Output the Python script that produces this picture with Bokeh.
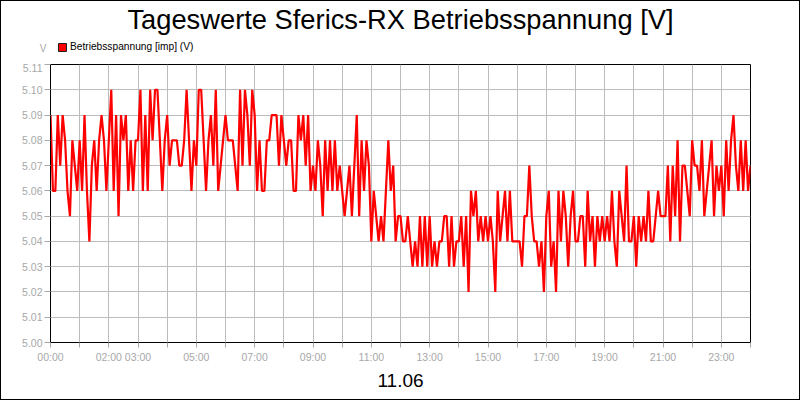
from bokeh.plotting import figure
from bokeh.layouts import column
from bokeh.models import FixedTicker, Label, Legend, LegendItem, Range1d
from bokeh.embed import file_html
from bokeh.resources import INLINE

title_text = "Tageswerte Sferics-RX Betriebsspannung [V]"
date_label = "11.06"
unit_label = "V"
series_name = "Betriebsspannung [imp] (V)"

# 5-minute readings in volts
volts_00_06 = [
    5.09, 5.06, 5.06, 5.09, 5.07, 5.09, 5.08, 5.06, 5.05, 5.08, 5.07, 5.06,
    5.08, 5.06, 5.09, 5.06, 5.04, 5.07, 5.08, 5.06, 5.08, 5.09, 5.08, 5.06,
    5.08, 5.10, 5.06, 5.09, 5.05, 5.09, 5.08, 5.09, 5.06, 5.08, 5.06, 5.08,
    5.08, 5.10, 5.06, 5.09, 5.06, 5.10, 5.08, 5.10, 5.10, 5.08, 5.06, 5.08,
    5.09, 5.07, 5.08, 5.08, 5.08, 5.07, 5.07, 5.08, 5.10, 5.08, 5.06, 5.08,
    5.07, 5.10, 5.10, 5.08, 5.06, 5.08, 5.09, 5.07, 5.10, 5.06, 5.07, 5.08,
]
volts_06_12 = [
    5.09, 5.08, 5.08, 5.08, 5.07, 5.06, 5.10, 5.07, 5.10, 5.09, 5.07, 5.10,
    5.09, 5.06, 5.08, 5.06, 5.06, 5.08, 5.08, 5.09, 5.09, 5.09, 5.07, 5.09,
    5.08, 5.07, 5.08, 5.08, 5.06, 5.06, 5.09, 5.08, 5.09, 5.07, 5.09, 5.06,
    5.07, 5.06, 5.08, 5.07, 5.05, 5.08, 5.06, 5.08, 5.06, 5.08, 5.06, 5.07,
    5.06, 5.05, 5.06, 5.07, 5.05, 5.07, 5.09, 5.05, 5.08, 5.06, 5.08, 5.07,
    5.04, 5.06, 5.05, 5.04, 5.05, 5.04, 5.06, 5.08, 5.06, 5.07, 5.04, 5.05,
]
volts_12_18 = [
    5.05, 5.04, 5.04, 5.05, 5.04, 5.03, 5.04, 5.03, 5.05, 5.03, 5.05, 5.03,
    5.05, 5.03, 5.04, 5.03, 5.04, 5.04, 5.05, 5.05, 5.03, 5.05, 5.03, 5.04,
    5.04, 5.05, 5.03, 5.05, 5.02, 5.06, 5.05, 5.06, 5.04, 5.05, 5.04, 5.05,
    5.04, 5.05, 5.04, 5.02, 5.06, 5.04, 5.05, 5.06, 5.04, 5.06, 5.04, 5.04,
    5.04, 5.04, 5.03, 5.05, 5.05, 5.07, 5.05, 5.04, 5.04, 5.03, 5.04, 5.02,
    5.05, 5.06, 5.03, 5.04, 5.02, 5.06, 5.04, 5.06, 5.05, 5.03, 5.05, 5.06,
]
volts_18_24 = [
    5.04, 5.04, 5.05, 5.05, 5.03, 5.06, 5.04, 5.05, 5.03, 5.05, 5.04, 5.05,
    5.04, 5.05, 5.04, 5.06, 5.04, 5.03, 5.06, 5.05, 5.04, 5.07, 5.04, 5.04,
    5.05, 5.03, 5.05, 5.04, 5.05, 5.04, 5.06, 5.04, 5.04, 5.05, 5.06, 5.05,
    5.05, 5.05, 5.07, 5.04, 5.07, 5.05, 5.08, 5.04, 5.07, 5.07, 5.06, 5.05,
    5.08, 5.07, 5.07, 5.06, 5.08, 5.05, 5.06, 5.07, 5.08, 5.05, 5.07, 5.06,
    5.07, 5.05, 5.08, 5.06, 5.08, 5.09, 5.07, 5.06, 5.08, 5.06, 5.08, 5.06,
    5.07,
]
sample_minutes = 5

hour_ticks = list(range(0, 25))
labeled_hours = [0, 2, 3, 5, 7, 9, 11, 13, 15, 17, 19, 21, 23]
y_ticks = [5.00, 5.01, 5.02, 5.03, 5.04, 5.05, 5.06, 5.07, 5.08, 5.09, 5.10, 5.11]

volts = volts_00_06 + volts_06_12 + volts_12_18 + volts_18_24
hours = [i * sample_minutes / 60.0 for i in range(len(volts))]

FONT = "Liberation Sans"
GRAY = "#a8a8a8"

# ---------------- header (title, unit, legend) ----------------
# header frame gets aligned with the chart frame (x 50..750 in the page)
head = figure(width=798, height=62, x_range=Range1d(0, 700), y_range=Range1d(0, 62),
              output_backend="svg", toolbar_location=None,
              x_axis_location=None, y_axis_location="left",
              min_border_left=49, min_border_right=49, min_border_top=0, min_border_bottom=0,
              background_fill_color="white", border_fill_color="white")
head.grid.visible = False
head.outline_line_color = None

# the unit "V" sits left of the frame: use the header's own axis tick label
unit_pos = 15
head.yaxis.ticker = FixedTicker(ticks=[unit_pos])
head.yaxis.major_label_overrides = {unit_pos: unit_label}
head.yaxis.axis_line_color = None
head.yaxis.major_tick_line_color = None
head.yaxis.minor_tick_line_color = None
head.yaxis.major_tick_out = 0
head.yaxis.major_tick_in = 0
head.yaxis.major_label_standoff = 4
head.yaxis.major_label_text_color = GRAY
head.yaxis.major_label_text_font = FONT
head.yaxis.major_label_text_font_size = "10px"

head.add_layout(Label(x=350, y=44, x_units="screen", y_units="screen", text=title_text,
                      text_align="center", text_baseline="alphabetic",
                      text_font=FONT, text_font_size="27.3px", text_color="black"))

# legend proxy (kept outside the visible header range)
sw = head.quad(left=[-20], right=[-10], top=[-10], bottom=[-20],
               fill_color="#ff0000", line_color="#202020")
series_legend = Legend(items=[LegendItem(label=series_name, renderers=[sw])],
                       location=(7, 11), orientation="horizontal",
                       glyph_width=10, glyph_height=10, label_height=10,
                       label_standoff=3, padding=0, margin=0, spacing=0,
                       label_text_font=FONT, label_text_font_size="10.2px",
                       label_text_color="black",
                       border_line_color=None, background_fill_alpha=0)
head.add_layout(series_legend, "center")

# ---------------- main chart ----------------
p = figure(width=798, height=336,
           x_range=Range1d(0, 24), y_range=Range1d(5.00, 5.11),
           output_backend="svg", toolbar_location=None,
           min_border_left=49, min_border_right=49,
           min_border_top=1, min_border_bottom=57,
           background_fill_color="white", border_fill_color="white")

p.outline_line_color = "black"
p.outline_line_width = 1

xt = FixedTicker(ticks=hour_ticks)
p.xaxis.ticker = xt
p.xaxis.major_label_overrides = {h: (f"{h:02d}:00" if h in labeled_hours else "") for h in hour_ticks}
p.xaxis.axis_line_color = "black"
p.xaxis.major_tick_in = 0
p.xaxis.major_tick_out = 5
p.xaxis.major_tick_line_color = GRAY
p.xaxis.minor_tick_line_color = None
p.xaxis.major_label_text_color = GRAY
p.xaxis.major_label_text_font = FONT
p.xaxis.major_label_text_font_size = "10.5px"
p.xaxis.major_label_standoff = 3
p.xaxis.axis_label = date_label
p.xaxis.axis_label_text_font = FONT
p.xaxis.axis_label_text_font_size = "19px"
p.xaxis.axis_label_text_font_style = "normal"
p.xaxis.axis_label_text_color = "black"
p.xaxis.axis_label_standoff = 8

yt = FixedTicker(ticks=y_ticks)
p.yaxis.ticker = yt
p.yaxis.major_label_overrides = {v: f"{v:.2f}" for v in y_ticks}
p.yaxis.axis_line_color = "black"
p.yaxis.major_tick_in = 0
p.yaxis.major_tick_out = 6
p.yaxis.major_tick_line_color = GRAY
p.yaxis.minor_tick_line_color = None
p.yaxis.major_label_text_color = GRAY
p.yaxis.major_label_text_font = FONT
p.yaxis.major_label_text_font_size = "10.5px"
p.yaxis.major_label_standoff = 2

p.xgrid.ticker = xt
p.ygrid.ticker = yt
p.xgrid.grid_line_color = "#bcbcbc"
p.ygrid.grid_line_color = "#bcbcbc"

p.line(hours, volts, line_color="#ff0000", line_width=2.2)

page = column(head, p, spacing=0, styles={"border": "1px solid black"})

open("out.html", "w").write(file_html(page, INLINE))
